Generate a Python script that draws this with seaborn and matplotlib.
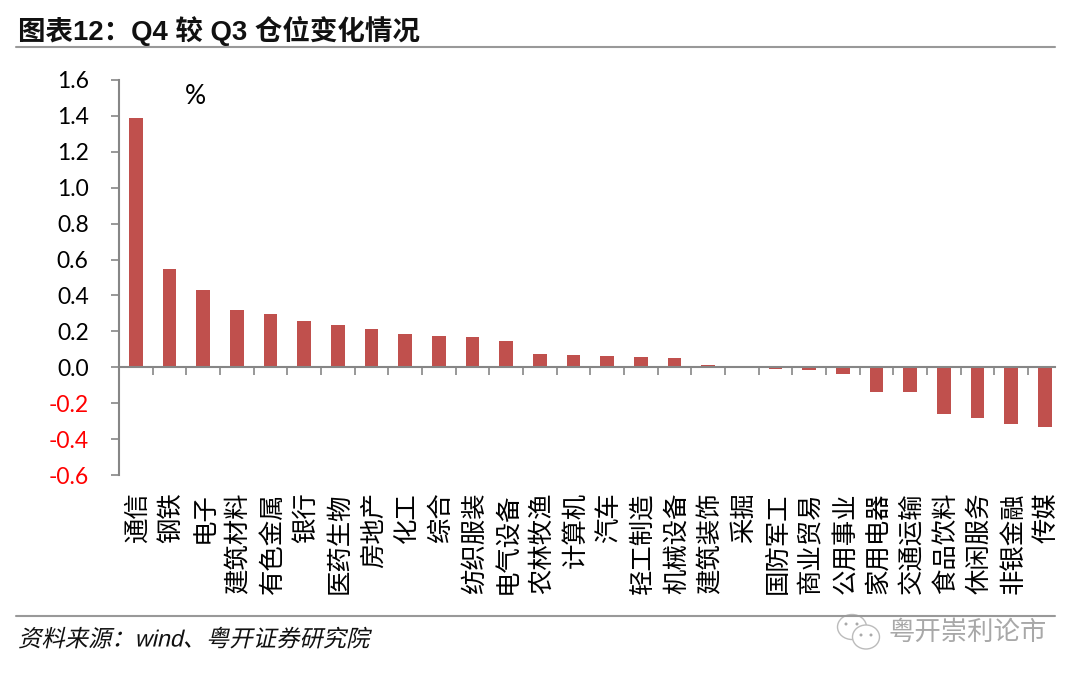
import matplotlib
matplotlib.use('Agg')
import matplotlib.pyplot as plt
from matplotlib.lines import Line2D
from matplotlib.patches import Ellipse
from matplotlib.patheffects import AbstractPathEffect
from matplotlib.transforms import Affine2D, ScaledTranslation
import numpy as np
import pandas as pd
import seaborn as sns

industries = ['通信', '钢铁', '电子', '建筑材料', '有色金属', '银行', '医药生物', '房地产', '化工', '综合',
              '纺织服装', '电气设备', '农林牧渔', '计算机', '汽车', '轻工制造', '机械设备', '建筑装饰', '采掘',
              '国防军工', '商业贸易', '公用事业', '家用电器', '交通运输', '食品饮料', '休闲服务', '非银金融', '传媒']
changes = [1.39, 0.55, 0.43, 0.32, 0.295, 0.255, 0.235, 0.215, 0.185, 0.175,
           0.17, 0.145, 0.075, 0.07, 0.065, 0.06, 0.05, 0.015, -0.005,
           -0.007, -0.015, -0.035, -0.135, -0.14, -0.26, -0.285, -0.315, -0.33]
y_ticks = [-0.6, -0.4, -0.2, 0.0, 0.2, 0.4, 0.6, 0.8, 1.0, 1.2, 1.4, 1.6]

W, H = 1080, 681
GRAY = '#868686'
CJK = ['Liberation Sans', 'Noto Sans CJK SC']


class Slant(AbstractPathEffect):
    # the CJK fonts have no italic, so lean the glyphs over by hand
    def draw_path(self, renderer, gc, tpath, affine, rgbFace=None):
        renderer.draw_path(gc, tpath, Affine2D().skew_deg(13, 0) + affine, rgbFace)


sns.set_theme(style='white')
plt.rcParams['font.family'] = ['Lato', 'Noto Sans CJK SC', 'DejaVu Sans']

df = pd.DataFrame({'industry': industries, 'change': changes})

fig = plt.figure(figsize=(W / 100, H / 100), dpi=100)
ax = fig.add_axes([119 / W, 1 - 475 / H, 936 / W, 395 / H])
sns.barplot(data=df, x='industry', y='change', color='#C0504D', saturation=1, width=0.41, linewidth=0, ax=ax)

# the source picture is cut just after the last bar, so the axis stops short of a full slot
ax.set_xlim(-0.5, len(industries) - 0.7)
ax.set_ylim(-0.6, 1.6)
ax.set_xlabel('')
ax.set_ylabel('')

# axes: zero line with ticks between the bars, labels pushed down below the plot
sns.despine(ax=ax, top=True, right=True)
ax.spines['bottom'].set_position(('data', 0))
for side in ['left', 'bottom']:
    ax.spines[side].set_color(GRAY)
    ax.spines[side].set_linewidth(1.5)

ax.set_xticks(np.arange(len(industries)))
ax.set_xticks(np.arange(len(industries)) - 0.5, minor=True)
ax.set_xticklabels(industries, rotation=90, fontsize=18.3, color='black', va='top', ha='center',
                   fontfamily='Noto Sans CJK SC')
ax.tick_params(axis='x', which='major', length=0, pad=90)
ax.tick_params(axis='x', which='minor', bottom=True, direction='out', length=5.8, width=1.2, color=GRAY)
shift = ScaledTranslation(2 / 100, 0, fig.dpi_scale_trans)
for lab in ax.get_xticklabels():
    lab.set_transform(lab.get_transform() + shift)

ax.set_yticks(y_ticks)
ax.set_yticklabels([f'{v:.1f}' for v in y_ticks], fontsize=16.5)
ax.tick_params(axis='y', left=True, direction='out', length=5.8, width=1.2, color=GRAY, pad=16)
for lab, v in zip(ax.get_yticklabels(), y_ticks):
    lab.set_color('red' if v < 0 else 'black')

ax.text(195 / W, 1 - 97 / H, '%', transform=fig.transFigure, fontsize=19, color='black', ha='center', va='center')

# header and footer
fig.text(18 / W, 1 - 31 / H, '图表12：Q4 较 Q3 仓位变化情况', fontsize=19.8, fontweight='bold', color='#111111',
         family=CJK, ha='left', va='center')
fig.add_artist(Line2D([16 / W, 1055 / W], [1 - 47 / H] * 2, color='#999999', lw=1.5))
fig.add_artist(Line2D([16 / W, 1055 / W], [1 - 616 / H] * 2, color='#999999', lw=1.5))
fig.text(18 / W, 1 - 640 / H, '资料来源：wind、粤开证券研究院', fontsize=16.8, color='#111111',
         family=CJK, ha='left', va='center', path_effects=[Slant()])

# watermark
for cx, cy, w, h in [(852, 627, 29, 25), (866, 637, 27, 24)]:
    fig.add_artist(Ellipse((cx / W, 1 - cy / H), w / W, h / H, transform=fig.transFigure,
                           facecolor='white', edgecolor='#bbbbbb', lw=1))
for cx, cy in [(846, 624), (857, 624), (861, 635), (871, 635)]:
    fig.add_artist(Ellipse((cx / W, 1 - cy / H), 3 / W, 3 / H, transform=fig.transFigure,
                           facecolor='#aaaaaa', edgecolor='none'))
fig.text(888 / W, 1 - 633 / H, '粤开崇利论市', fontsize=19, color='#a8a8a8', family=CJK, ha='left', va='center')

fig.savefig('out.png', dpi=100)
